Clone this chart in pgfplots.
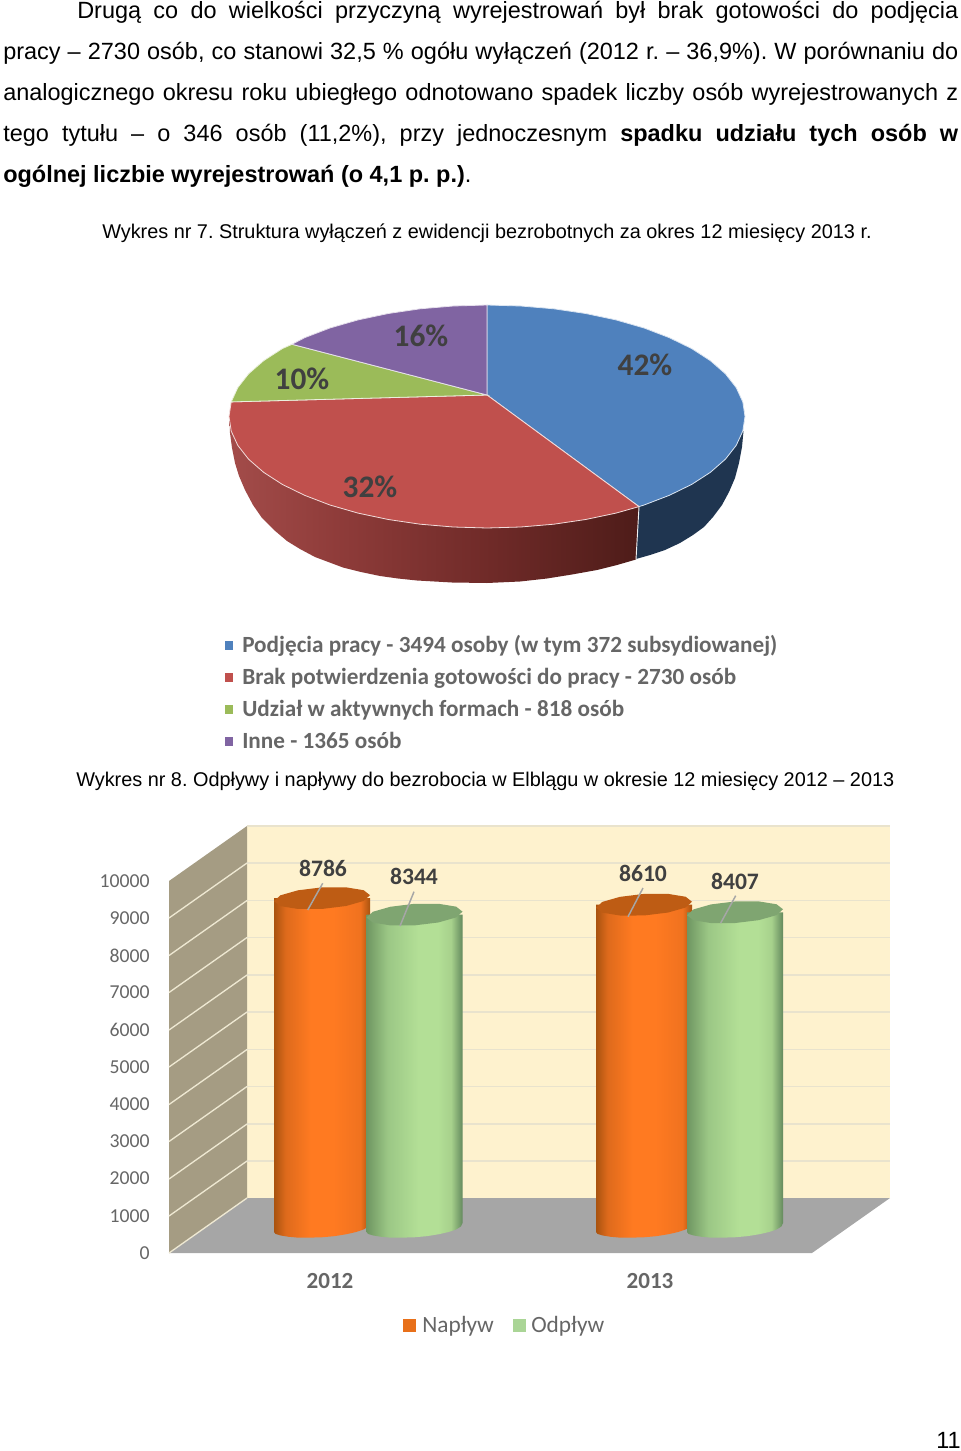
\documentclass[border=0pt]{standalone}
\usepackage{pgfplots}
\pgfplotsset{compat=1.18}
\usepackage{fontspec}
\setmainfont{Liberation Sans}
\newfontfamily\chartfont{Carlito}
\frenchspacing
\definecolor{cblue}{HTML}{4F81BD}
\definecolor{cred}{HTML}{C0504D}
\definecolor{cgreen}{HTML}{9BBB59}
\definecolor{cpurple}{HTML}{8064A2}
\definecolor{sideblue}{HTML}{1F3550}
\definecolor{wall}{HTML}{FEF2CE}
\definecolor{wallline}{HTML}{E9E3CD}
\definecolor{sidewall}{HTML}{A59C83}
\definecolor{sideline}{HTML}{EEE8D2}
\definecolor{floorc}{HTML}{A6A6A6}
\definecolor{labc}{HTML}{404040}
\definecolor{legc}{HTML}{666666}
\definecolor{lead}{HTML}{A6A6A6}
\definecolor{capor}{HTML}{BE5C14}
\definecolor{capgr}{HTML}{7FA571}
\definecolor{swor}{HTML}{E8701A}
\definecolor{swgr}{HTML}{AAD596}
\pgfdeclarehorizontalshading{orangebar}{100bp}{rgb(0bp)=(0.663,0.325,0.059);rgb(25bp)=(0.663,0.325,0.059);rgb(31bp)=(0.87,0.416,0.11);rgb(44bp)=(1,0.478,0.129);rgb(56bp)=(1,0.478,0.129);rgb(70bp)=(0.941,0.447,0.122);rgb(75bp)=(0.663,0.325,0.059);rgb(100bp)=(0.663,0.325,0.059)}
\pgfdeclarehorizontalshading{greenbar}{100bp}{rgb(0bp)=(0.435,0.588,0.384);rgb(25bp)=(0.435,0.588,0.384);rgb(36bp)=(0.608,0.78,0.522);rgb(52bp)=(0.702,0.875,0.588);rgb(62bp)=(0.702,0.875,0.588);rgb(69bp)=(0.655,0.82,0.549);rgb(75bp)=(0.392,0.541,0.369);rgb(100bp)=(0.392,0.541,0.369)}
\pgfdeclarehorizontalshading{redside}{100bp}{rgb(0bp)=(0.639,0.298,0.29);rgb(25bp)=(0.639,0.298,0.29);rgb(38bp)=(0.561,0.235,0.227);rgb(57bp)=(0.435,0.165,0.157);rgb(75bp)=(0.306,0.11,0.098);rgb(100bp)=(0.306,0.11,0.098)}
\pgfplotsset{page/.style={at={(0pt,0pt)},anchor=south west,scale only axis,width=720pt,height=1088.25pt,
  xmin=0,xmax=960,ymin=0,ymax=1451,y dir=reverse,hide axis,clip=false}}
\newcommand{\body}{\fontsize{17.6}{20}\selectfont}
\newcommand{\capt}{\fontsize{14.9}{17}\selectfont}
\newcommand{\jl}[4]{\node[anchor=base west,inner sep=0pt] at (axis cs:#1,#2) {\body\makebox[#3pt][s]{#4}};}
\newcommand{\tl}[3]{\node[anchor=base west,inner sep=0pt] at (axis cs:#1,#2) {#3};}
\newcommand{\pct}[3]{\node[inner sep=0pt,text=labc] at (axis cs:#1,#2) {\chartfont\bfseries\fontsize{23.5}{25}\selectfont #3};}
\newcommand{\legt}[3]{\node[anchor=base west,inner sep=0pt,text=legc] at (axis cs:#1,#2) {\chartfont\bfseries\fontsize{17.4}{19}\selectfont #3};}
\newcommand{\dlab}[3]{\node[inner sep=0pt,text=labc] at (axis cs:#1,#2) {\chartfont\bfseries\fontsize{17.7}{19}\selectfont #3};}
\begin{document}
\begin{tikzpicture}
\path[use as bounding box] (0pt,0pt) rectangle (720pt,1088.25pt);
%% background: text, pie and chart walls, in page pixels
\begin{axis}[page]
\jl{77}{18.5}{660.75}{Drugą co do wielkości przyczyną wyrejestrowań był brak gotowości do podjęcia}
\jl{3}{59.5}{716.25}{pracy – 2730 osób, co stanowi 32,5 \% ogółu wyłączeń (2012 r. – 36,9\%). W porównaniu do}
\jl{3}{100.5}{716.25}{analogicznego okresu roku ubiegłego odnotowano spadek liczby osób wyrejestrowanych z}
\jl{3}{141.5}{716.25}{tego tytułu – o 346 osób (11,2\%), przy jednoczesnym \textbf{spadku udziału tych osób w}}
\tl{3}{182.5}{\body\textbf{ogólnej liczbie wyrejestrowań (o 4,1 p. p.)}.}
\tl{102}{238.5}{\capt Wykres nr 7. Struktura wyłączeń z ewidencji bezrobotnych za okres 12 miesięcy 2013 r.}
\tl{76}{786.5}{\capt Wykres nr 8. Odpływy i napływy do bezrobocia w Elblągu w okresie 12 miesięcy 2012 – 2013}
\tl{936}{1448.5}{\body 11}
% pie sides
\addplot[fill=sideblue,draw=none] coordinates {(743.5,431) (742,447) (739,463) (735,478) (729,492) (722,505) (713,517) (704,527) (693,535) (680,543) (665,550) (650,555) (636,559) (639,506) (700,440)} --cycle;
\addplot[shade,shading=redside,draw=none] coordinates {(229.5,420) (230,433) (232,448) (235,463) (239,476) (245,490) (253,505) (262,518) (274,530) (287,541) (300,549) (315,557) (343,567.5) (361,572) (380,576) (398,578.5) (417,580.5) (452,582.5) (487,583) (520,581.5) (547,578.5) (572,574.5) (597,570) (617,565) (636,559.5) (639,506) (487,440)} --cycle;
\addplot[white!90!gray,line width=.7pt] coordinates {(639,506.6) (636,559.5)};
% pie top
\addplot[fill=cblue,draw=white!80!cblue,line width=.6pt] coordinates {(487,395) (487,305) (520.7,306) (553.8,308.8) (585.7,313.5) (616,319.9) (644.1,328) (669.4,337.7) (691.7,348.6) (710.4,360.7) (725.4,373.8) (736.2,387.6) (742.8,401.9) (745,416.5) (742.8,431.1) (736.2,445.4) (725.4,459.2) (710.4,472.3) (691.7,484.4) (669.4,495.3) (644.1,505) (639,506.6)} --cycle;
\addplot[fill=cred,draw=white!80!cred,line width=.6pt] coordinates {(487,395) (639,506.6) (616,513.1) (585.7,519.5) (553.8,524.2) (520.7,527) (487,528) (453.3,527) (420.2,524.2) (388.3,519.5) (358,513.1) (329.9,505) (304.6,495.3) (282.3,484.4) (263.6,472.3) (248.6,459.2) (237.8,445.4) (231.2,431.1) (229,416.5) (231.2,401.9)} --cycle;
\addplot[fill=cgreen,draw=white!80!cgreen,line width=.6pt] coordinates {(487,395) (231.2,401.9) (237.8,387.6) (248.6,373.8) (263.6,360.7) (282.3,348.6) (292,344.3)} --cycle;
\addplot[fill=cpurple,draw=white!80!cpurple,line width=.6pt] coordinates {(487,395) (292,344.3) (304.6,337.7) (329.9,328) (358,319.9) (388.3,313.5) (420.2,308.8) (453.3,306) (487,305)} --cycle;
\pct{645}{365}{42\%}
\pct{421}{336}{16\%}
\pct{302}{379}{10\%}
\pct{370}{487}{32\%}
% pie legend
\addplot[fill=cblue,draw=none] coordinates {(224.5,641) (233,641) (233,649.5) (224.5,649.5)} --cycle;
\addplot[fill=cred,draw=none] coordinates {(224.5,673) (233,673) (233,681.5) (224.5,681.5)} --cycle;
\addplot[fill=cgreen,draw=none] coordinates {(224.5,705) (233,705) (233,713.5) (224.5,713.5)} --cycle;
\addplot[fill=cpurple,draw=none] coordinates {(224.5,737) (233,737) (233,745.5) (224.5,745.5)} --cycle;
\legt{242}{652}{Podjęcia pracy - 3494 osoby (w tym 372 subsydiowanej)}
\legt{242}{684}{Brak potwierdzenia gotowości do pracy - 2730 osób}
\legt{242}{716}{Udział w aktywnych formach - 818 osób}
\legt{242}{748}{Inne - 1365 osób}
% 3-D chart walls
\addplot[fill=wall,draw=none] coordinates {(247,826) (890,826) (890,1198) (247,1198)} --cycle;
\addplot[fill=sidewall,draw=none] coordinates {(169,881) (247,826) (247,1198) (169,1253)} --cycle;
\addplot[fill=floorc,draw=none] coordinates {(169,1253) (247,1198) (890,1198) (812,1253)} --cycle;
\addplot[wallline,line width=1pt] coordinates {(247,826) (890,826)};
\addplot[wallline,line width=1pt] coordinates {(247,863) (890,863)};
\addplot[wallline,line width=1pt] coordinates {(247,900.5) (890,900.5)};
\addplot[wallline,line width=1pt] coordinates {(247,937.5) (890,937.5)};
\addplot[wallline,line width=1pt] coordinates {(247,975) (890,975)};
\addplot[wallline,line width=1pt] coordinates {(247,1012) (890,1012)};
\addplot[wallline,line width=1pt] coordinates {(247,1049.5) (890,1049.5)};
\addplot[wallline,line width=1pt] coordinates {(247,1086.5) (890,1086.5)};
\addplot[wallline,line width=1pt] coordinates {(247,1124) (890,1124)};
\addplot[wallline,line width=1pt] coordinates {(247,1161) (890,1161)};
\addplot[sideline,line width=1pt] coordinates {(169,918) (247,863)};
\addplot[sideline,line width=1pt] coordinates {(169,955.5) (247,900.5)};
\addplot[sideline,line width=1pt] coordinates {(169,992.5) (247,937.5)};
\addplot[sideline,line width=1pt] coordinates {(169,1030) (247,975)};
\addplot[sideline,line width=1pt] coordinates {(169,1067) (247,1012)};
\addplot[sideline,line width=1pt] coordinates {(169,1104.5) (247,1049.5)};
\addplot[sideline,line width=1pt] coordinates {(169,1141.5) (247,1086.5)};
\addplot[sideline,line width=1pt] coordinates {(169,1179) (247,1124)};
\addplot[sideline,line width=1pt] coordinates {(169,1216) (247,1161)};
\addplot[sideline,line width=1pt] coordinates {(169,1253) (247,1198)};
\end{axis}
%% bars: x in page pixels, y in persons
\begin{axis}[at={(126.75pt,148.5pt)},anchor=south west,scale only axis,width=593.25pt,height=279pt,
  xmin=169,xmax=960,ymin=0,ymax=10000,clip=false,
  axis line style={draw=none},tick style={draw=none},scaled y ticks=false,
  ytick={0,1000,2000,3000,4000,5000,6000,7000,8000,9000,10000},
  xtick={330,650},xticklabels={2012,2013},
  /pgf/number format/fixed,/pgf/number format/1000 sep={},/pgf/number format/assume math mode=true,
  yticklabel style={font=\chartfont\fontsize{14.8}{16}\selectfont,text=legc,xshift=-11pt},
  xticklabel style={font=\chartfont\bfseries\fontsize{17.3}{19}\selectfont,text=legc,yshift=-11.5pt}]
\pgfplotsset{every axis plot/.append style={yshift=21pt,draw=none}}
\addplot[shade,shading=orangebar] coordinates {(274,8786) (274,-190) (275.6,-240) (280.4,-280) (288.1,-315) (298,-340) (309.6,-340) (322,-330) (334.4,-300) (346,-250) (355.9,-190) (363.6,-120) (368.4,-40) (370,50) (370,8786)} --cycle;
\addplot[fill=capor] coordinates {(370,8866) (363.6,9000) (346,9077) (322,9076) (298,8997) (280.4,8862) (274,8706) (280.4,8572) (298,8495) (322,8496) (346,8575) (363.6,8710)} --cycle;
\addplot[shade,shading=greenbar] coordinates {(366.5,8344) (366.5,-190) (368.1,-240) (372.9,-280) (380.6,-315) (390.5,-340) (402.1,-340) (414.5,-330) (426.9,-300) (438.5,-250) (448.4,-190) (456.1,-120) (460.9,-40) (462.5,50) (462.5,8344)} --cycle;
\addplot[fill=capgr] coordinates {(462.5,8424) (456.1,8558) (438.5,8635) (414.5,8634) (390.5,8555) (372.9,8420) (366.5,8264) (372.9,8130) (390.5,8053) (414.5,8054) (438.5,8133) (456.1,8268)} --cycle;
\addplot[shade,shading=orangebar] coordinates {(596,8610) (596,-190) (597.6,-240) (602.4,-280) (610.1,-315) (620,-340) (631.6,-340) (644,-330) (656.4,-300) (668,-250) (677.9,-190) (685.6,-120) (690.4,-40) (692,50) (692,8610)} --cycle;
\addplot[fill=capor] coordinates {(692,8690) (685.6,8824) (668,8901) (644,8900) (620,8821) (602.4,8686) (596,8530) (602.4,8396) (620,8319) (644,8320) (668,8399) (685.6,8534)} --cycle;
\addplot[shade,shading=greenbar] coordinates {(687,8407) (687,-190) (688.6,-240) (693.4,-280) (701.1,-315) (711,-340) (722.6,-340) (735,-330) (747.4,-300) (759,-250) (768.9,-190) (776.6,-120) (781.4,-40) (783,50) (783,8407)} --cycle;
\addplot[fill=capgr] coordinates {(783,8487) (776.6,8621) (759,8698) (735,8697) (711,8618) (693.4,8483) (687,8327) (693.4,8193) (711,8116) (735,8117) (759,8196) (776.6,8331)} --cycle;
\end{axis}
%% overlay: leader lines, value labels, legend
\begin{axis}[page]
\addplot[lead,line width=1.1pt] coordinates {(322.7,883.3) (307.7,910)};
\addplot[lead,line width=1.1pt] coordinates {(414,891.7) (400,926)};
\addplot[lead,line width=1.1pt] coordinates {(643,888) (628,916.7)};
\addplot[lead,line width=1.1pt] coordinates {(735.7,895.7) (720.7,923)};
\dlab{323}{868}{8786}
\dlab{414}{876}{8344}
\dlab{643}{873}{8610}
\dlab{735}{881}{8407}
\addplot[fill=swor,draw=none] coordinates {(403,1319) (416,1319) (416,1332) (403,1332)} --cycle;
\addplot[fill=swgr,draw=none] coordinates {(513,1319) (526,1319) (526,1332) (513,1332)} --cycle;
\node[anchor=base west,inner sep=0pt,text=legc] at (axis cs:422,1332) {\chartfont\fontsize{17.5}{19}\selectfont Napływ};
\node[anchor=base west,inner sep=0pt,text=legc] at (axis cs:531,1332) {\chartfont\fontsize{17.5}{19}\selectfont Odpływ};
\end{axis}
\end{tikzpicture}
\end{document}
